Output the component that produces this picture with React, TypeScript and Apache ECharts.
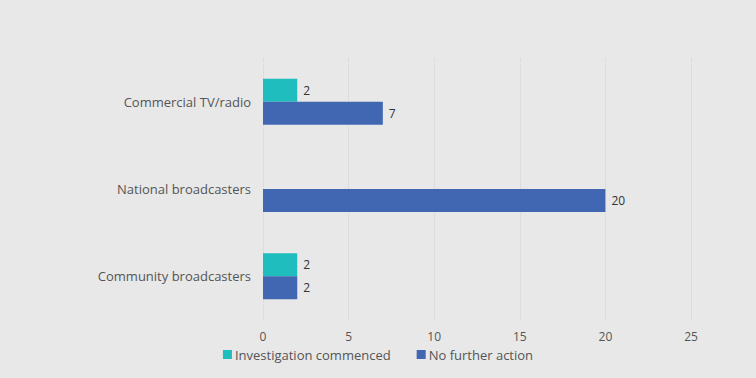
import React, { useEffect, useRef } from "react";
import * as echarts from "echarts";

const categories = ["Commercial TV/radio", "National broadcasters", "Community broadcasters"];
const investigation = [2, null, 2];
const noFurther = [7, 20, 2];
const xTicks = { min: 0, max: 25, interval: 5 };

export default function App() {
  const ref = useRef<HTMLDivElement>(null);
  useEffect(() => {
    const chart = echarts.init(ref.current!, null, { renderer: "svg" });
    chart.setOption({
      animation: false,
      backgroundColor: "#e8e8e8",
      textStyle: { fontFamily: "Open Sans" },
      grid: { left: 263, right: 65, top: 58, bottom: 58 },
      legend: {
        bottom: 12,
        left: "center",
        itemWidth: 9,
        itemHeight: 9,
        itemGap: 26,
        icon: "rect",
        textStyle: { color: "#555", fontSize: 13, padding: [0, 0, 0, -2] },
        data: ["Investigation commenced", "No further action"],
      },
      xAxis: {
        type: "value",
        min: xTicks.min,
        max: xTicks.max,
        interval: xTicks.interval,
        axisLine: { show: false },
        axisTick: { show: false },
        axisLabel: { color: "#555", fontSize: 12, margin: 10 },
        splitLine: { show: true, lineStyle: { color: "#d2d2d2", type: "dotted", width: 1 } },
      },
      yAxis: {
        type: "category",
        data: categories,
        inverse: true,
        axisLine: { show: false },
        axisTick: { show: false },
        axisLabel: { color: "#555", fontSize: 13, margin: 12 },
      },
      series: [
        {
          name: "Investigation commenced",
          type: "bar",
          data: investigation,
          barWidth: 23,
          barGap: "0%",
          itemStyle: { color: "#1fbdbd" },
          label: { show: true, position: "right", color: "#333", fontSize: 12, distance: 6 },
        },
        {
          name: "No further action",
          type: "bar",
          data: noFurther,
          barWidth: 23,
          barGap: "0%",
          itemStyle: { color: "#4267b2" },
          label: { show: true, position: "right", color: "#333", fontSize: 12, distance: 6 },
        },
      ],
    });
    return () => chart.dispose();
  }, []);
  return <div ref={ref} style={{ position: "absolute", left: 0, top: 0, width: 756, height: 378 }} />;
}
